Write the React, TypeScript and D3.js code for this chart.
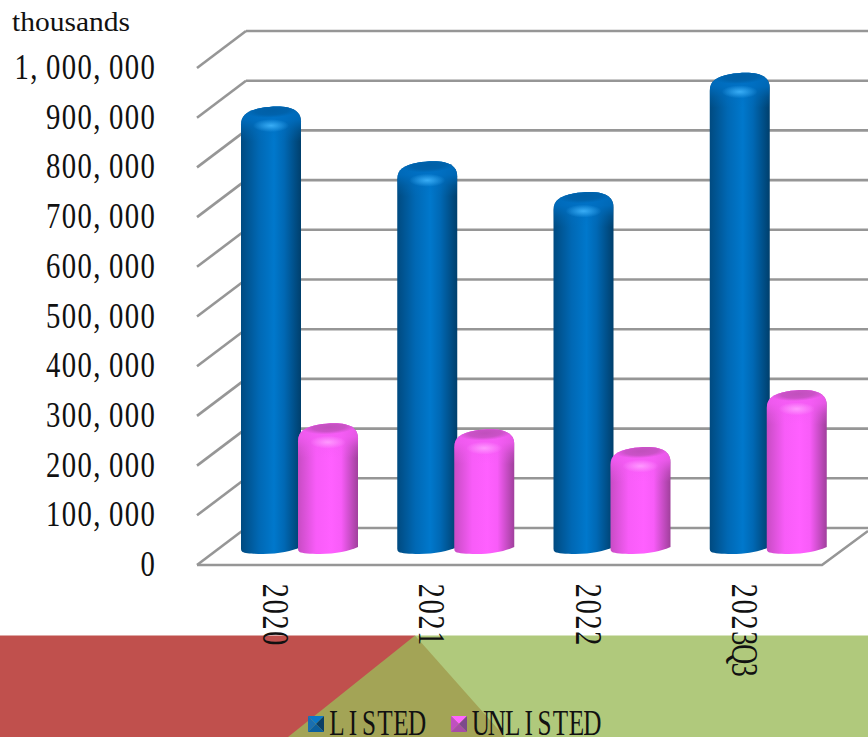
import React from "react";
import * as d3 from "d3";

const categories = ["2020", "2021", "2022", "2023Q3"];
const listed = [872000, 762000, 700000, 940000];
const unlisted = [235000, 223000, 187000, 302000];
const ticks = [0, 100000, 200000, 300000, 400000, 500000, 600000, 700000, 800000, 900000, 1000000];
const tickLabels = ["0", "100,000", "200,000", "300,000", "400,000", "500,000", "600,000", "700,000", "800,000", "900,000", "1,000,000"];

const W = 868, H = 737;
const FONT = "'Liberation Serif', serif";
const GRID = "#969696";

const yFront = d3.scaleLinear().domain([0, 1000000]).range([565, 68]);
const xBand = d3.scaleBand<string>().domain(categories).range([197, 822]).paddingInner(0).paddingOuter(0);
const depthX = 49, depthY = -37;
const barW = 60, barDx = 44, barGap = 57;
const baseMid = 547;
const perUnit = (565 - 68) / 1000000;
const topOf = (v: number) => baseMid - v * perUnit - 7;

function cylPath(x0: number, v: number) {
  const top = topOf(v);
  const x1 = x0 + barW;
  const bot = 554;
  return `M${x0},${top + 18}
    C${x0},${top + 8} ${x0 + 7},${top + 4} ${x0 + 20},${top + 1.5}
    C${x0 + 30},${top - 0.3} ${x0 + 40},${top - 0.5} ${x0 + 47},${top + 1}
    C${x1 - 4},${top + 3} ${x1},${top + 8} ${x1},${top + 15}
    L${x1},${bot - 7}
    C${x1 - 9},${bot - 3} ${x0 + 38},${bot} ${x0 + 22},${bot}
    C${x0 + 12},${bot} ${x0 + 4},${bot - 0.8} ${x0 + 1.5},${bot - 2}
    Q${x0},${bot - 2.8} ${x0},${bot - 5}Z`;
}

function Cylinder({ x0, v, id, clip }: { x0: number; v: number; id: string; clip: string }) {
  const top = topOf(v);
  return (
    <g>
      <clipPath id={clip}><path d={cylPath(x0, v)} /></clipPath>
      <path d={cylPath(x0, v)} fill={`url(#${id}-body)`} />
      <g clipPath={`url(#${clip})`}>
        <rect x={x0} y={top - 1} width={barW} height={36} fill={`url(#${id}-dome)`} />
        <ellipse cx={x0 + 31} cy={top + 4} rx={27} ry={7} fill={`url(#${id}-cap)`} transform={`rotate(-3 ${x0 + 31} ${top + 4})`} />
        <ellipse cx={x0 + 30} cy={top + 19} rx={18} ry={6.5} fill={`url(#${id}-hi)`} />
      </g>
    </g>
  );
}

function Grad({ id, left, right, mid, center, dark, dome, hi }: { id: string; left: string; right: string; mid: string; center: string; dark: string; dome: string; hi: string }) {
  return (
    <>
      <linearGradient id={`${id}-body`} x1="0" x2="1" y1="0" y2="0">
        <stop offset="0" stopColor={left} />
        <stop offset="0.3" stopColor={mid} />
        <stop offset="0.55" stopColor={center} />
        <stop offset="0.72" stopColor={mid} />
        <stop offset="1" stopColor={right} />
      </linearGradient>
      <linearGradient id={`${id}-dome`} x1="0" x2="0" y1="0" y2="1">
        <stop offset="0" stopColor={dome} stopOpacity={0.95} />
        <stop offset="0.4" stopColor={dome} stopOpacity={0.8} />
        <stop offset="0.7" stopColor={dome} stopOpacity={0.3} />
        <stop offset="1" stopColor={dome} stopOpacity={0} />
      </linearGradient>
      <radialGradient id={`${id}-cap`}>
        <stop offset="0" stopColor={dark} />
        <stop offset="0.6" stopColor={dark} stopOpacity={0.8} />
        <stop offset="1" stopColor={dark} stopOpacity={0} />
      </radialGradient>
      <radialGradient id={`${id}-hi`}>
        <stop offset="0" stopColor={hi} stopOpacity={0.95} />
        <stop offset="1" stopColor={hi} stopOpacity={0} />
      </radialGradient>
    </>
  );
}

function Swatch({ x, y, s, light, mid, dark, side }: { x: number; y: number; s: number; light: string; mid: string; dark: string; side: string }) {
  const cx = x + s / 2, cy = y + s / 2;
  const c = `${cx},${cy}`;
  return (
    <g>
      <polygon points={`${x},${y} ${x + s},${y} ${c}`} fill={light} />
      <polygon points={`${x},${y} ${x},${y + s} ${c}`} fill={mid} />
      <polygon points={`${x + s},${y} ${x + s},${y + s} ${c}`} fill={side} />
      <polygon points={`${x},${y + s} ${x + s},${y + s} ${c}`} fill={dark} />
    </g>
  );
}

/** Text laid out in fixed-width cells, like the full-pitch font of the original. */
function CellText({ text, cell, sx, size, transform, endX }: { text: string; cell: number; sx: number; size: number; transform: string; endX?: boolean }) {
  const chars = text.split("");
  const total = chars.length * cell;
  const offset = endX ? -total : 0;
  const xs = chars.map((ch, i) => ((offset + (i + 0.5) * cell + (ch === "," ? -3.5 : 0)) / sx).toFixed(2)).join(" ");
  return (
    <text transform={`${transform} scale(${sx},1)`} x={xs} textAnchor="middle" fontFamily={FONT} fontSize={size} fill="#111">
      {text}
    </text>
  );
}

export default function App() {
  return (
    <svg width={W} height={H} viewBox={`0 0 ${W} ${H}`} style={{ position: "absolute", left: 0, top: 0, background: "#fff" }}>
      <defs>
        <Grad id="listed" left="#004a80" right="#003f6c" mid="#0068b4" center="#0078cc" dark="#005fa6" dome="#0070c4" hi="#3cb0f8" />
        <Grad id="unlisted" left="#c84cc4" right="#a0409c" mid="#f85cf8" center="#ff60ff" dark="#c050bc" dome="#f45cf4" hi="#ff9cff" />
      </defs>

      {/* Background band */}
      <polygon points="0,635.5 415,635.5 505,737 0,737" fill="#c0504d" />
      <polygon points="868,635.5 415,635.5 288,737 868,737" fill="#9bbb59" fillOpacity={0.79} />

      {/* Grid */}
      <g stroke={GRID} strokeWidth={2.6} fill="none">
        {ticks.map((t) => {
          const yf = yFront(t);
          return (
            <g key={t}>
              <line x1={197} y1={yf} x2={197 + depthX} y2={yf + depthY} />
              <line x1={197 + depthX} y1={yf + depthY} x2={W} y2={yf + depthY} />
            </g>
          );
        })}
        <path d={`M197,${yFront(0)}L822,${yFront(0)}L${W},${yFront(0) - 34}`} />
      </g>

      {/* Bars */}
      {categories.map((c, i) => {
        const start = (xBand(c) as number) + barDx;
        return (
          <g key={c}>
            <Cylinder x0={start} v={listed[i]} id="listed" clip={`cl-${i}`} />
            <Cylinder x0={start + barGap} v={unlisted[i]} id="unlisted" clip={`cu-${i}`} />
          </g>
        );
      })}

      {/* Y labels */}
      {ticks.map((t, i) => (
        <CellText key={t} text={tickLabels[i]} cell={15.75} sx={0.82} size={35} endX transform={`translate(155.5,${yFront(t) + 11})`} />
      ))}
      <text x={12} y={31} fontFamily={FONT} fontSize={28} fill="#111" textLength={118} lengthAdjust="spacingAndGlyphs">thousands</text>

      {/* X labels */}
      {categories.map((c) => {
        const cx = (xBand(c) as number) + 66;
        return <CellText key={c} text={c} cell={15.8} sx={0.74} size={38} transform={`translate(${cx},583) rotate(90)`} />;
      })}

      {/* Legend */}
      <Swatch x={308} y={716} s={16} light="#0a78c8" mid="#1a6fb0" dark="#0b5f9e" side="#0a3f66" />
      <CellText text="LISTED" cell={16} sx={0.7} size={36} transform="translate(329,735)" />
      <Swatch x={451} y={716} s={16} light="#ff66ff" mid="#c050c0" dark="#a84ca8" side="#7d4a8c" />
      <CellText text="UNLISTED" cell={15.9} sx={0.7} size={36} transform="translate(473,735)" />
    </svg>
  );
}
